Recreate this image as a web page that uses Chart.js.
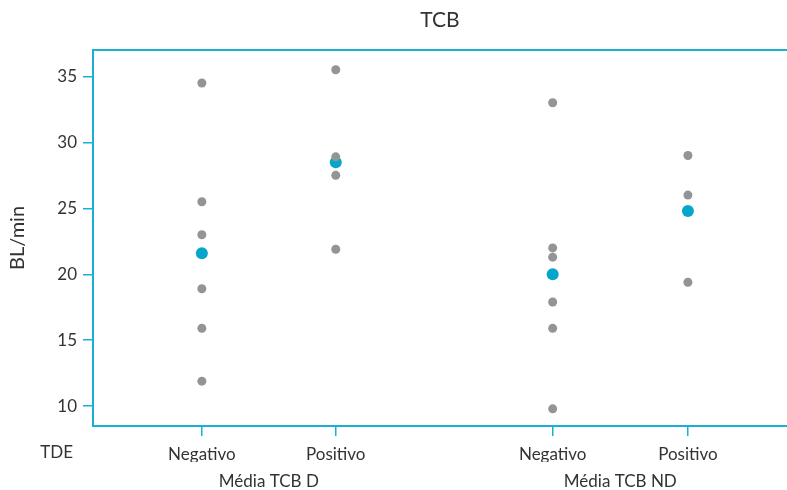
<!DOCTYPE html>
<html>
<head>
<meta charset="utf-8">
<script src="https://cdn.jsdelivr.net/npm/chart.js@4"></script>
<style>
  html, body { margin: 0; padding: 0; background: #fff; }
  #wrap { width: 787px; height: 490px; }
</style>
</head>
<body>
<div id="wrap"><canvas id="tcbChart"></canvas></div>
<script>
// Values
var groupLabels = ['Média TCB D', 'Média TCB ND'];
var tdeLabels = ['Negativo', 'Positivo', 'Negativo', 'Positivo'];
var dNegativo = [34.5, 25.5, 23.0, 18.9, 15.9, 11.9];
var dPositivo = [35.5, 28.9, 27.5, 21.9];
var ndNegativo = [33.0, 22.0, 21.3, 17.9, 15.9, 9.8];
var ndPositivo = [29.0, 26.0, 19.4];
var means = [21.6, 28.5, 20.0, 24.8];
var yTicks = [10, 15, 20, 25, 30, 35];

// where each column sits on the x scale
var slots = [1, 2, 3.62, 4.63];
var groupSlots = [1.5, 4.125];

var CYAN = '#1aafd4';
var DOT = '#949497';
var MEAN = '#06a6cb';
var TEXT = '#333333';
var FONT = 'Lato, "DejaVu Sans", sans-serif';

var columns = [dNegativo, dPositivo, ndNegativo, ndPositivo];
var rawPoints = [];
columns.forEach(function(vals, i) {
  vals.forEach(function(v) { rawPoints.push({ x: slots[i], y: v }); });
});
var meanPoints = means.map(function(v, i) { return { x: slots[i], y: v }; });

function setTicks(values) {
  return function(scale) {
    scale.ticks = values.map(function(v) { return { value: v }; });
  };
}
function fitHeight(h) {
  return function(s) { s.height = h; };
}

// "TDE" row label, on the same line as the tick labels
var tdeLabel = {
  id: 'tdeLabel',
  afterDraw: function(chart) {
    var ctx = chart.ctx;
    var xs = chart.scales.x;
    ctx.save();
    ctx.font = '17px ' + FONT;
    ctx.fillStyle = TEXT;
    ctx.textAlign = 'right';
    ctx.textBaseline = 'top';
    ctx.fillText('TDE', chart.chartArea.left - 20, xs.top + 10 + 8);
    ctx.restore();
  }
};

new Chart(document.getElementById('tcbChart'), {
  type: 'scatter',
  data: {
    datasets: [{
      label: 'Valores',
      data: rawPoints,
      backgroundColor: DOT,
      borderWidth: 0,
      pointRadius: 4.5
    }, {
      label: 'Média',
      data: meanPoints,
      backgroundColor: MEAN,
      borderWidth: 0,
      pointRadius: 6
    }]
  },
  plugins: [tdeLabel],
  options: {
    responsive: true,
    maintainAspectRatio: false,
    animation: false,
    events: [],
    layout: { padding: 0, autoPadding: false },
    plugins: {
      legend: { display: false },
      tooltip: { enabled: false }
    },
    scales: {
      x: {
        type: 'linear',
        position: 'bottom',
        min: 0.187,
        max: 5.37,
        weight: 0,
        afterBuildTicks: setTicks(slots),
        afterFit: fitHeight(36),
        ticks: {
          color: TEXT,
          font: { family: FONT, size: 17 },
          padding: 8,
          maxRotation: 0,
          autoSkip: false,
          callback: function(v, i) { return tdeLabels[i]; }
        },
        grid: { drawOnChartArea: false, drawTicks: true, tickLength: 10, color: CYAN, lineWidth: 1.5 },
        border: { color: CYAN, width: 2 }
      },
      xg: {
        type: 'linear',
        position: 'bottom',
        min: 0.187,
        max: 5.37,
        weight: 1,
        afterBuildTicks: setTicks(groupSlots),
        afterFit: fitHeight(28),
        ticks: {
          color: TEXT,
          font: { family: FONT, size: 17 },
          padding: 9,
          maxRotation: 0,
          autoSkip: false,
          callback: function(v, i) { return groupLabels[i]; }
        },
        grid: { display: false, drawTicks: false },
        border: { display: false }
      },
      xt: {
        type: 'linear',
        position: 'top',
        min: 0.187,
        max: 5.37,
        afterBuildTicks: setTicks([]),
        afterFit: fitHeight(50),
        ticks: { display: false },
        grid: { display: false, drawTicks: false },
        border: { color: CYAN, width: 2 },
        title: {
          display: true,
          text: 'TCB',
          color: TEXT,
          font: { family: FONT, size: 21 },
          padding: { top: 8, bottom: 0 }
        }
      },
      y: {
        min: 8.5,
        max: 37,
        afterBuildTicks: setTicks(yTicks),
        afterFit: function(s) { s.width = 93; },
        ticks: {
          color: TEXT,
          font: { family: FONT, size: 17 },
          padding: 6
        },
        grid: { drawOnChartArea: false, drawTicks: true, tickLength: 10, color: CYAN, lineWidth: 1.5 },
        border: { color: CYAN, width: 2 },
        title: {
          display: true,
          text: 'BL/min',
          color: TEXT,
          font: { family: FONT, size: 20 },
          padding: { top: 6, bottom: 0 }
        }
      }
    }
  }
});
</script>
</body>
</html>
